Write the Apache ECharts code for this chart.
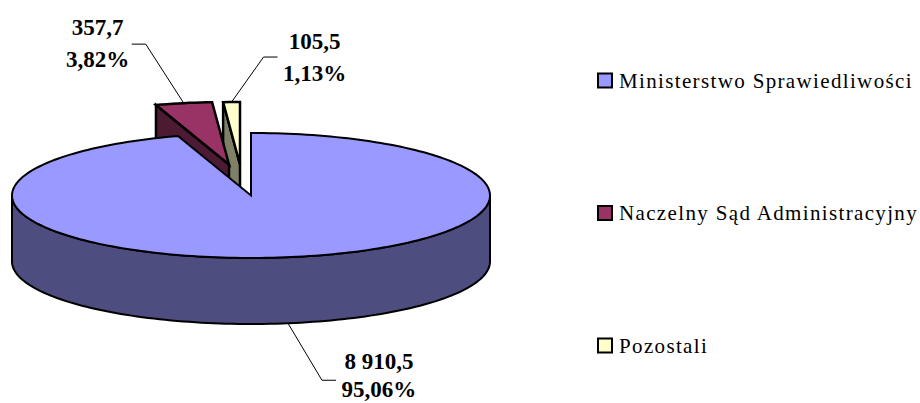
<!DOCTYPE html>
<html><head><meta charset="utf-8">
<style>
html,body{margin:0;padding:0;background:#fff}
#c{width:920px;height:403px}
#c svg text[style*="21px"]{letter-spacing:1.35px}
</style>
<script src="https://cdn.jsdelivr.net/npm/echarts@6/dist/echarts.min.js"></script>
</head><body><div id="c"></div>
<script>
const categories = ['Ministerstwo Sprawiedliwości', 'Naczelny Sąd Administracyjny', 'Pozostali'];
const values = [8910.5, 357.7, 105.5];
const valueLabels = ['8 910,5', '357,7', '105,5'];
const percentLabels = ['95,06%', '3,82%', '1,13%'];
const topColors = ['#9999FF', '#993366', '#FFFFCC'];
const sideColors = ['#4D4D80', '#4D1A33', '#808066'];

// layout of the drawn disc
const cx = 251, cy = 195.5, rx = 239, ry = 62.5, depth = 66;
const offsets = [[0, 0], [-22, -31], [-11, -31]];
const leaders = [
  {elbow: [34, 57], end: [48, 57], label: [91, 52], lineHeight: 28, rim: true},
  {elbow: [-38, -59], end: [-52, -59], label: [-86, -60], lineHeight: 32, rim: false},
  {elbow: [32, -45], end: [46, -45], label: [83, -45], lineHeight: 32, rim: false}
];
const total = values.reduce((a, b) => a + b, 0);
const startFrac = [];
{ let s = 0; values.forEach(v => { startFrac.push(s); s += v / total; }); }

function pt(deg, ox, oy) {
  const t = deg * Math.PI / 180;
  return [cx + ox + rx * Math.sin(t), cy + oy - ry * Math.cos(t)];
}
function arc(a0, a1, ox, oy) {
  const n = Math.max(2, Math.ceil(Math.abs(a1 - a0) / 1.5));
  const out = [];
  for (let i = 0; i <= n; i++) out.push(pt(a0 + (a1 - a0) * i / n, ox, oy));
  return out;
}

function renderSlice(idx) {
  return function (params, api) {
    const frac = api.value(0) / total;
    const a0 = startFrac[idx] * 360, a1 = a0 + frac * 360;
    const [ox, oy] = offsets[idx];
    const apex = [cx + ox, cy + oy];
    const kids = [];
    const poly = (points, fill) => kids.push({
      type: 'polygon', shape: {points},
      style: {stroke: '#000', lineWidth: idx === 0 ? 2 : 2.5, lineJoin: 'miter', miterLimit: 4, fill}
    });
    if (idx === 0) {
      // outer wall: front half of the rim
      const front = arc(90, 270, ox, oy);
      poly(front.concat(front.slice().reverse().map(p => [p[0], p[1] + depth])), sideColors[0]);
    } else {
      // cut face seen through the gap; the wall drops straight down
      const a = pt(a0, ox, oy);
      poly([a, apex, [apex[0], apex[1] + depth], [a[0], a[1] + depth]], sideColors[idx]);
    }
    poly([apex].concat(arc(a0, a1, ox, oy)), topColors[idx]);

    // leader line and label, anchored at the slice's mid angle
    const L = leaders[idx];
    const anchor = pt((a0 + a1) / 2, ox, oy);
    if (L.rim) anchor[1] += depth;
    kids.push({
      type: 'polyline',
      shape: {points: [anchor,
        [anchor[0] + L.elbow[0], anchor[1] + L.elbow[1]],
        [anchor[0] + L.end[0], anchor[1] + L.end[1]]]},
      style: {stroke: '#000', lineWidth: 1, fill: null}
    });
    kids.push({
      type: 'text', z2: 10,
      style: {
        x: anchor[0] + L.label[0], y: anchor[1] + L.label[1],
        text: valueLabels[idx] + '\n' + percentLabels[idx],
        font: 'bold 23px "Liberation Serif"', lineHeight: L.lineHeight,
        fill: '#000', align: 'center', verticalAlign: 'middle'
      }
    });
    return {type: 'group', children: kids};
  };
}

const chart = echarts.init(document.getElementById('c'), null, {renderer: 'svg'});
const drawOrder = [2, 1, 0];
chart.setOption({
  animation: false,
  backgroundColor: '#fff',
  legend: {
    orient: 'vertical', left: 597, top: 70, padding: 0,
    data: categories, icon: 'rect', itemWidth: 14, itemHeight: 14, itemGap: 111.5,
    selectedMode: false,
    itemStyle: {borderColor: '#000', borderWidth: 2},
    textStyle: {fontFamily: 'Liberation Serif', fontSize: 21, color: '#000', lineHeight: 14, padding: [0, 0, 0, 2]}
  },
  series: drawOrder.map((i, order) => ({
    type: 'custom', name: categories[i], coordinateSystem: 'none', silent: true,
    z: 2 + order, itemStyle: {color: topColors[i]},
    renderItem: renderSlice(i), data: [[values[i]]]
  }))
});
</script></body></html>
